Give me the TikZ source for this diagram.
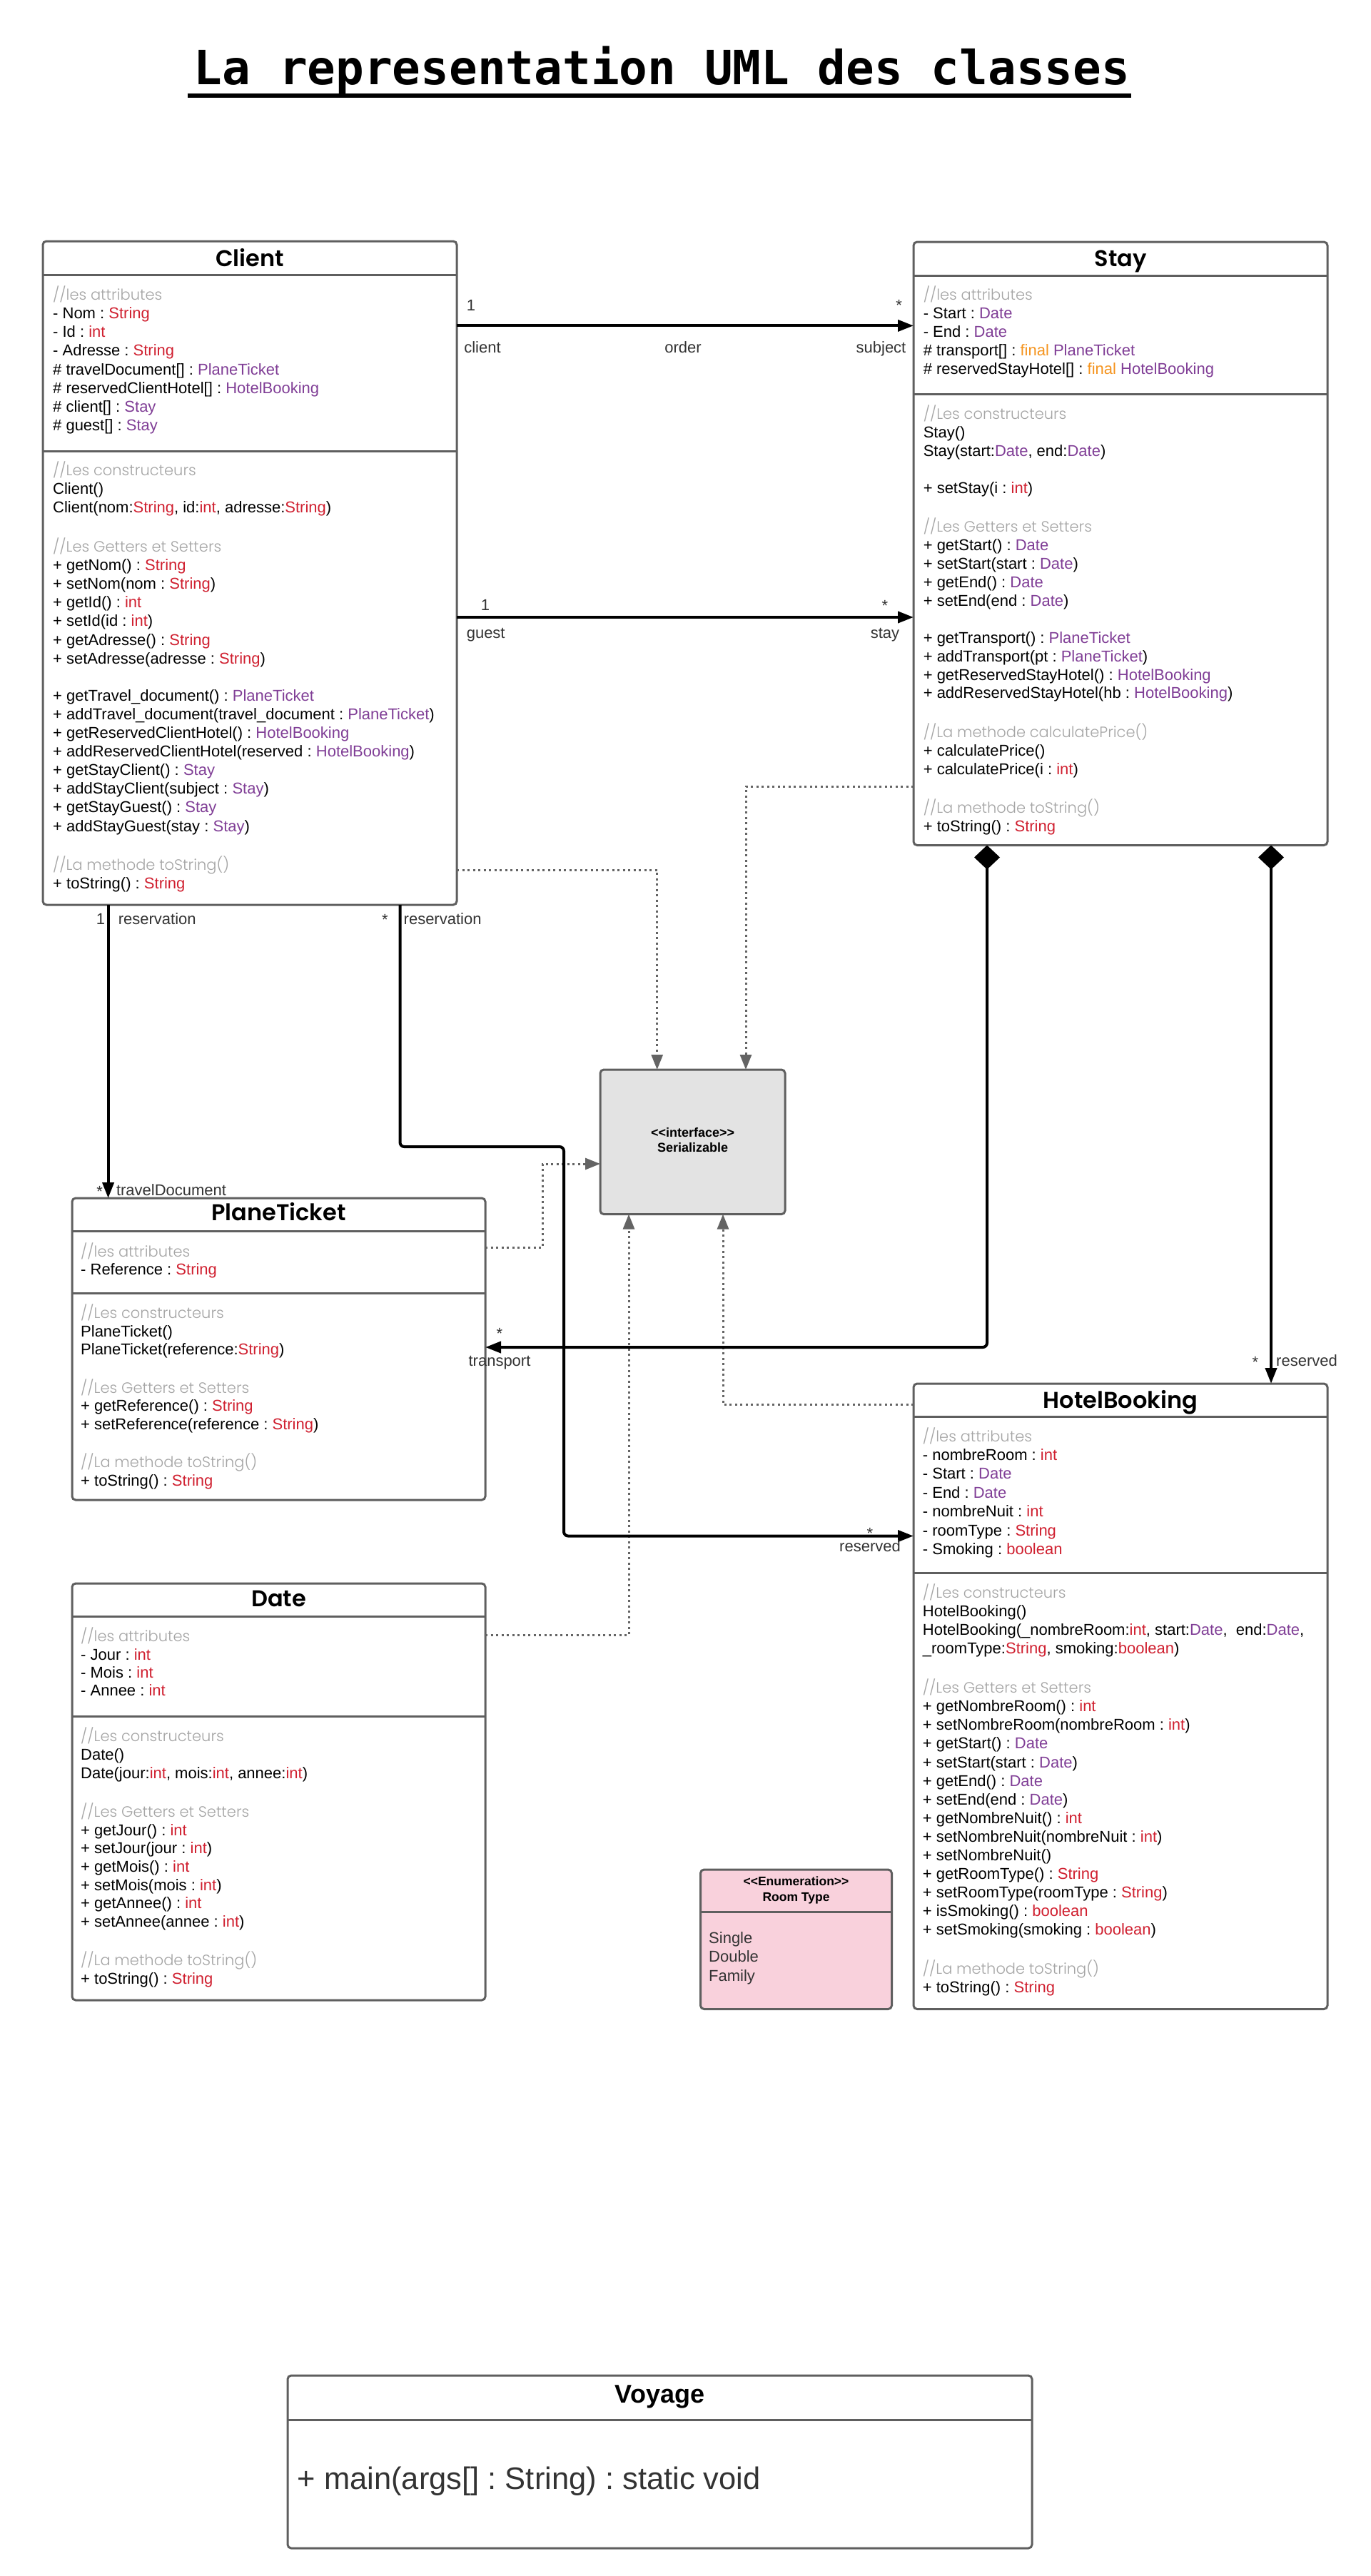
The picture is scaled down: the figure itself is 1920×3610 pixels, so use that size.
\documentclass[tikz,border=0pt]{standalone}
\usepackage{fontspec}
\setmainfont{Liberation Sans}
\newfontfamily\titlefont{Poppins}[BoldFont={Poppins SemiBold}]
\newfontfamily\cmtfont{Poppins Light}
\newfontfamily\headmono{DejaVu Sans Mono}
\usetikzlibrary{arrows.meta}
\frenchspacing
\definecolor{tred}{RGB}{208,32,48}
\definecolor{tpur}{RGB}{128,62,150}
\definecolor{torg}{RGB}{245,148,30}
\definecolor{cmtgray}{RGB}{165,165,165}
\definecolor{boxgray}{RGB}{95,95,95}
\definecolor{dotgray}{RGB}{100,100,100}
\definecolor{lblgray}{RGB}{51,51,51}
\definecolor{serfill}{RGB}{227,227,227}
\definecolor{enumfill}{RGB}{249,209,220}
\newcommand\colR[1]{{\color{tred}#1}}
\newcommand\colP[1]{{\color{tpur}#1}}
\newcommand\colO[1]{{\color{torg}#1}}
\newcommand\cmt[1]{{\cmtfont\fontsize{21}{24}\selectfont\color{cmtgray}#1}}
\tikzset{
  umlbox/.style={draw=boxgray, line width=3pt, rounded corners=5pt, anchor=north west, inner sep=0pt, outer sep=0pt, fill=white},
  divline/.style={draw=boxgray, line width=3pt},
  ctext/.style={anchor=north west, inner sep=0pt, align=left, yshift=3pt, font=\frenchspacing\fontsize{22}{#1}\selectfont},
  ctext/.default=26.1,
  ttl/.style={anchor=base, inner sep=0pt, font=\titlefont\bfseries\fontsize{32}{36}\selectfont},
  assoc/.style={draw=black, line width=4pt, -{Triangle[length=22pt,width=16pt]}},
  real/.style={draw=dotgray, line width=3pt, dash pattern=on 3pt off 4.5pt, -{Triangle[length=21pt,width=16pt]}},
  lbl/.style={inner sep=0pt, font=\fontsize{22}{26}\selectfont, text=lblgray},
  stereo/.style={anchor=base, inner sep=0pt, font=\bfseries\fontsize{18}{21}\selectfont},
}
\begin{document}
\begin{tikzpicture}[x=1pt,y=-1pt]
\useasboundingbox (0,0) rectangle (1920,3610);
\fill[white] (0,0) rectangle (1920,3610);

% ---------- title ----------
\node[anchor=base, inner sep=0pt, font=\headmono\bfseries\fontsize{66}{70}\selectfont] (title) at (927.5,119) {La representation UML des classes};
\draw[line width=6pt] ([xshift=-9pt,yshift=-15pt]title.base west) -- ([xshift=2pt,yshift=-15pt]title.base east);

% ---------- Client ----------
\node[umlbox, minimum width=580pt, minimum height=930pt] (client) at (60,338) {};
\draw[divline] (client.west |- 0,385.5) -- (client.east |- 0,385.5);
\draw[divline] (client.west |- 0,632) -- (client.east |- 0,632);
\node[ttl] (clientT) at (350,373.5) {Client};
\node[ctext] (clientA) at (74,403.7) {\strut\cmt{//les attributes}\\
- Nom : \colR{String}\\
- Id : \colR{int}\\
- Adresse : \colR{String}\\
\# travelDocument[] : \colP{PlaneTicket}\\
\# reservedClientHotel[] : \colP{HotelBooking}\\
\# client[] : \colP{Stay}\\
\# guest[] : \colP{Stay}};
\node[ctext] (clientO) at (74,649.7) {\strut\cmt{//Les constructeurs}\\
Client()\\
Client(nom:\colR{String}, id:\colR{int}, adresse:\colR{String})\\
\strut\\
\cmt{//Les Getters et Setters}\\
+ getNom() : \colR{String}\\
+ setNom(nom : \colR{String})\\
+ getId() : \colR{int}\\
+ setId(id : \colR{int})\\
+ getAdresse() : \colR{String}\\
+ setAdresse(adresse : \colR{String})\\
\strut\\
+ getTravel\_document() : \colP{PlaneTicket}\\
+ addTravel\_document(travel\_document : \colP{PlaneTicket})\\
+ getReservedClientHotel() : \colP{HotelBooking}\\
+ addReservedClientHotel(reserved : \colP{HotelBooking})\\
+ getStayClient() : \colP{Stay}\\
+ addStayClient(subject : \colP{Stay})\\
+ getStayGuest() : \colP{Stay}\\
+ addStayGuest(stay : \colP{Stay})\\
\strut\\
\cmt{//La methode toString()}\\
+ toString() : \colR{String}};

% ---------- Stay ----------
\node[umlbox, minimum width=580pt, minimum height=845.5pt] (stay) at (1280,339) {};
\draw[divline] (stay.west |- 0,386) -- (stay.east |- 0,386);
\draw[divline] (stay.west |- 0,552.5) -- (stay.east |- 0,552.5);
\node[ttl] (stayT) at (1570,373.5) {Stay};
\node[ctext=25.9] (stayA) at (1293.6,403.5) {\strut\cmt{//les attributes}\\
- Start : \colP{Date}\\
- End : \colP{Date}\\
\# transport[] : \colO{final} \colP{PlaneTicket}\\
\# reservedStayHotel[] : \colO{final} \colP{HotelBooking}};
\node[ctext=25.9] (stayO) at (1293.6,570.9) {\strut\cmt{//Les constructeurs}\\
Stay()\\
Stay(start:\colP{Date}, end:\colP{Date})\\
\strut\\
+ setStay(i : \colR{int})\\
\strut\\
\cmt{//Les Getters et Setters}\\
+ getStart() : \colP{Date}\\
+ setStart(start : \colP{Date})\\
+ getEnd() : \colP{Date}\\
+ setEnd(end : \colP{Date})\\
\strut\\
+ getTransport() : \colP{PlaneTicket}\\
+ addTransport(pt : \colP{PlaneTicket})\\
+ getReservedStayHotel() : \colP{HotelBooking}\\
+ addReservedStayHotel(hb : \colP{HotelBooking})\\
\strut\\
\cmt{//La methode calculatePrice()}\\
+ calculatePrice()\\
+ calculatePrice(i : \colR{int})\\
\strut\\
\cmt{//La methode toString()}\\
+ toString() : \colR{String}};

% ---------- PlaneTicket ----------
\node[umlbox, minimum width=579pt, minimum height=423pt] (pt) at (101,1679) {};
\draw[divline] (pt.west |- 0,1725) -- (pt.east |- 0,1725);
\draw[divline] (pt.west |- 0,1812) -- (pt.east |- 0,1812);
\node[ttl] (ptT) at (390.5,1710.7) {PlaneTicket};
\node[ctext=25.4] (ptA) at (113,1744.2) {\strut\cmt{//les attributes}\\
- Reference : \colR{String}};
\node[ctext=25.4] (ptO) at (113,1830.7) {\strut\cmt{//Les constructeurs}\\
PlaneTicket()\\
PlaneTicket(reference:\colR{String})\\
\strut\\
\cmt{//Les Getters et Setters}\\
+ getReference() : \colR{String}\\
+ setReference(reference : \colR{String})\\
\strut\\
\cmt{//La methode toString()}\\
+ toString() : \colR{String}};

% ---------- Date ----------
\node[umlbox, minimum width=579pt, minimum height=584pt] (date) at (101,2219) {};
\draw[divline] (date.west |- 0,2265.4) -- (date.east |- 0,2265.4);
\draw[divline] (date.west |- 0,2405) -- (date.east |- 0,2405);
\node[ttl] (dateT) at (390.5,2251.5) {Date};
\node[ctext=25.4] (dateA) at (113,2283.8) {\strut\cmt{//les attributes}\\
- Jour : \colR{int}\\
- Mois : \colR{int}\\
- Annee : \colR{int}};
\node[ctext=25.7] (dateO) at (113,2423.8) {\strut\cmt{//Les constructeurs}\\
Date()\\
Date(jour:\colR{int}, mois:\colR{int}, annee:\colR{int})\\
\strut\\
\cmt{//Les Getters et Setters}\\
+ getJour() : \colR{int}\\
+ setJour(jour : \colR{int})\\
+ getMois() : \colR{int}\\
+ setMois(mois : \colR{int})\\
+ getAnnee() : \colR{int}\\
+ setAnnee(annee : \colR{int})\\
\strut\\
\cmt{//La methode toString()}\\
+ toString() : \colR{String}};

% ---------- HotelBooking ----------
\node[umlbox, minimum width=580pt, minimum height=876.5pt] (hotel) at (1280,1939) {};
\draw[divline] (hotel.west |- 0,1985) -- (hotel.east |- 0,1985);
\draw[divline] (hotel.west |- 0,2204.7) -- (hotel.east |- 0,2204.7);
\node[ttl] (hotelT) at (1570,1973.4) {HotelBooking};
\node[ctext=26.4] (hotelA) at (1292.7,2003.1) {\strut\cmt{//les attributes}\\
- nombreRoom : \colR{int}\\
- Start : \colP{Date}\\
- End : \colP{Date}\\
- nombreNuit : \colR{int}\\
- roomType : \colR{String}\\
- Smoking : \colR{boolean}};
\node[ctext] (hotelO) at (1292.7,2222.7) {\strut\cmt{//Les constructeurs}\\
HotelBooking()\\
HotelBooking(\_nombreRoom:\colR{int}, start:\colP{Date},\ \ end:\colP{Date},\\
\_roomType:\colR{String}, smoking:\colR{boolean})\\
\strut\\
\cmt{//Les Getters et Setters}\\
+ getNombreRoom() : \colR{int}\\
+ setNombreRoom(nombreRoom : \colR{int})\\
+ getStart() : \colP{Date}\\
+ setStart(start : \colP{Date})\\
+ getEnd() : \colP{Date}\\
+ setEnd(end : \colP{Date})\\
+ getNombreNuit() : \colR{int}\\
+ setNombreNuit(nombreNuit : \colR{int})\\
+ setNombreNuit()\\
+ getRoomType() : \colR{String}\\
+ setRoomType(roomType : \colR{String})\\
+ isSmoking() : \colR{boolean}\\
+ setSmoking(smoking : \colR{boolean})\\
\strut\\
\cmt{//La methode toString()}\\
+ toString() : \colR{String}};

% ---------- Serializable ----------
\node[umlbox, fill=serfill, minimum width=259pt, minimum height=202.6pt] (serial) at (841,1499) {};
\node[stereo] (serialS) at (970.6,1593) {<{}<interface>{}>};
\node[stereo] (serialN) at (970.6,1614.6) {Serializable};

% ---------- Room Type ----------
\node[umlbox, fill=enumfill, minimum width=268pt, minimum height=195.5pt] (enum) at (981.5,2620) {};
\draw[divline] (enum.west |- 0,2679) -- (enum.east |- 0,2679);
\node[stereo, font=\bfseries\fontsize{17.5}{21}\selectfont] (enumS) at (1115.5,2642.7) {<{}<Enumeration>{}>};
\node[stereo, font=\bfseries\fontsize{17.5}{21}\selectfont] (enumN) at (1115.5,2664.5) {Room Type};
\node[ctext=26.6, text=lblgray] (enumV) at (993,2707.4) {\strut Single\\ Double\\ Family};

% ---------- Voyage ----------
\node[umlbox, minimum width=1043pt, minimum height=242pt] (voyage) at (403,3329) {};
\draw[divline] (voyage.west |- 0,3391) -- (voyage.east |- 0,3391);
\node[anchor=base, inner sep=0pt, font=\bfseries\fontsize{36}{40}\selectfont] (voyT) at (924.5,3367) {Voyage};
\node[anchor=base west, inner sep=0pt, font=\frenchspacing\fontsize{43.5}{48}\selectfont, text=lblgray] (voyM) at (416.5,3488) {+ main(args[] : String) : static void};

% ---------- realizations (dotted) ----------
\draw[real] (client.east |- 0,1219) -| (serial.north -| 920.7,0);
\draw[real] (stay.west |- 0,1102) -| (serial.north -| 1045,0);
\draw[real] (pt.east |- 0,1748.6) -- (760,1748.6) -- (760,1631) -- (serial.west |- 0,1631);
\draw[real] (date.east |- 0,2291.5) -| (serial.south -| 881,0);
\draw[real] (hotel.west |- 0,1968.5) -| (serial.south -| 1013,0);

% ---------- associations ----------
\draw[assoc] (client.east |- 0,456.4) -- (stay.west |- 0,456.4);
\node[lbl, anchor=base] (ordA) at (660,435) {1};
\node[lbl, anchor=base] (ordB) at (1259.6,435) {*};
\node[lbl, anchor=base] (ordC) at (676,494) {client};
\node[lbl, anchor=base] (ordD) at (957,494) {order};
\node[lbl, anchor=base] (ordE) at (1234.5,494) {subject};

\draw[assoc] (client.east |- 0,865) -- (stay.west |- 0,865);
\node[lbl, anchor=base] (gstA) at (680,855) {1};
\node[lbl, anchor=base] (gstB) at (1240,856) {*};
\node[lbl, anchor=base] (gstC) at (680.7,894) {guest};
\node[lbl, anchor=base] (gstD) at (1240,894) {stay};

\draw[assoc] (client.south -| 151.6,0) -- (pt.north -| 151.6,0);
\node[lbl, anchor=base] (resA) at (141,1295) {1};
\node[lbl, anchor=base west] (resB) at (165.6,1295) {reservation};
\node[lbl, anchor=base] (tdA) at (139.6,1677) {*};
\node[lbl, anchor=base west] (tdB) at (162.8,1675) {travelDocument};

\draw[assoc, rounded corners=6pt] (client.south -| 560.5,0) -- (560.5,1607) -- (790,1607) -- (790,2152.5) -- (hotel.west |- 0,2152.5);
\node[lbl, anchor=base] (res2A) at (539.5,1296) {*};
\node[lbl, anchor=base west] (res2B) at (565.5,1295) {reservation};
\node[lbl, anchor=base] (rsvA) at (1219,2156) {*};
\node[lbl, anchor=base] (rsvB) at (1219,2174) {reserved};

% ---------- compositions ----------
\draw[assoc, rounded corners=6pt, {Diamond[length=34pt,width=36pt]}-{Triangle[length=22pt,width=16pt]}] (stay.south -| 1383,0) -- (1383,1888) -- (pt.east |- 0,1888);
\node[lbl, anchor=base] (trA) at (700,1876) {*};
\node[lbl, anchor=base] (trB) at (700,1914.5) {transport};

\draw[assoc, {Diamond[length=34pt,width=36pt]}-{Triangle[length=22pt,width=16pt]}] (stay.south -| 1781,0) -- (hotel.north -| 1781,0);
\node[lbl, anchor=base] (rvA) at (1759,1916) {*};
\node[lbl, anchor=base west] (rvB) at (1788,1914.5) {reserved};

\end{tikzpicture}
\end{document}
